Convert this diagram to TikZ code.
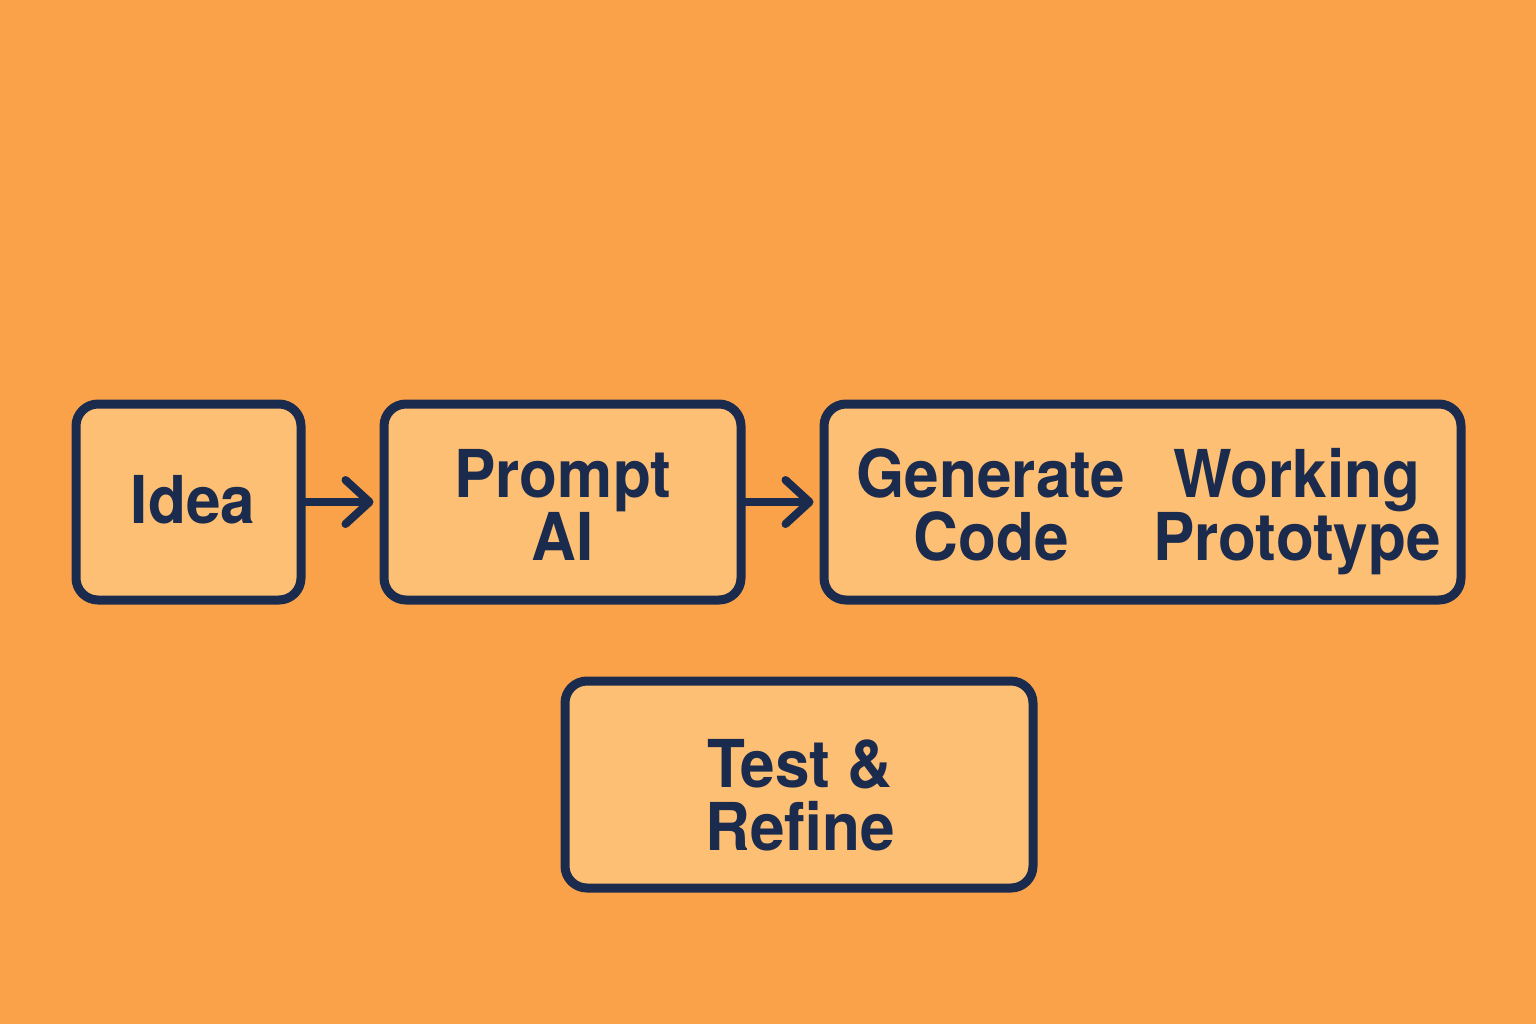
\documentclass[tikz,border=0pt]{standalone}
\usepackage{fontspec}
\setmainfont{TeX Gyre Heros}[FakeStretch=0.94]
\usetikzlibrary{arrows.meta}
\definecolor{bgorange}{HTML}{F9A24A}
\definecolor{boxfill}{HTML}{FDBF74}
\definecolor{navy}{HTML}{1A2B4E}
\tikzset{
  box/.style={draw=navy, fill=boxfill, line width=4.5pt, rounded corners=11pt, inner sep=0pt},
  lbl/.style={text=navy, font=\fontsize{33}{31.5}\selectfont\bfseries, align=center, inner sep=0pt, text depth=7pt},
  two/.style={lbl, text height=55.5pt},
  one/.style={lbl, text height=24pt},
  flow/.style={draw=navy, line width=4pt, line cap=round, -{Straight Barb[length=12pt, width=22pt, line cap=round, line join=round]}}
}
\begin{document}
\begin{tikzpicture}[x=0.5pt, y=-0.5pt]
\fill[bgorange] (0,0) rectangle (1536,1024);
\useasboundingbox (0,0) rectangle (1536,1024);
\node[box, minimum width=112.5pt, minimum height=98pt] (idea) at (188.5,502) {};
\node[box, minimum width=178.5pt, minimum height=98pt] (prompt) at (562.5,502) {};
\node[box, minimum width=318.5pt, minimum height=98pt] (gen) at (1142.5,502) {};
\node[box, minimum width=234pt, minimum height=103.5pt] (test) at (799,784.5) {};
\node[one] (tidea) at (193,506) {Idea};
\node[two] (tprompt) at (563,512) {Prompt\\AI};
\node[two] (tgen) at (991,511.5) {Generate\\Code};
\node[two] (twork) at (1297,511.5) {Working\\Prototype};
\node[two] (ttest) at (800,801.5) {Test \&\\Refine};
\draw[flow, shorten >=3pt] (idea.east) -- (prompt.west);
\draw[flow, shorten >=3pt] (prompt.east) -- (gen.west);
\end{tikzpicture}
\end{document}
